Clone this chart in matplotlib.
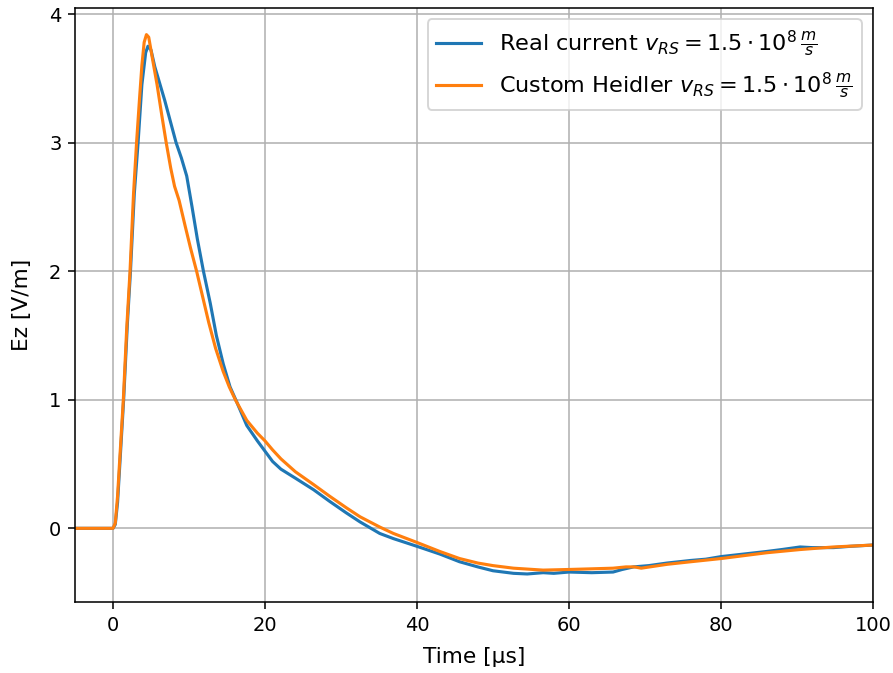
import matplotlib
matplotlib.use("Agg")
import matplotlib.pyplot as plt
import numpy as np

# Time axis in microseconds, field in V/m
t_real = [-5, 0, 0.3, 0.6, 0.9, 1.4, 1.9, 2.3, 2.8, 3.3, 3.8, 4.3, 4.6, 5.0,
          5.5, 6.8, 8.3, 9.0, 9.7, 10.4, 11.1, 11.9, 12.8, 13.6, 14.5, 15.4,
          16.3, 17.6, 19.0, 20.0, 21.0, 22.1, 24.0, 26.4, 28.5, 30.7, 32.5,
          35.1, 36.9, 40.0, 43.0, 45.6, 48.0, 50.0, 52.7, 54.5, 56.6, 58.0,
          60.0, 63.0, 65.8, 67.0, 68.5, 70.5, 72.9, 76.0, 78.0, 80.0, 83.0,
          86.0, 88.0, 90.4, 92.0, 94.8, 97.0, 100.0]
ez_real = [0, 0, 0.03, 0.2, 0.5, 1.0, 1.6, 2.0, 2.6, 3.0, 3.45, 3.7, 3.75, 3.72,
           3.59, 3.33, 3.0, 2.88, 2.74, 2.5, 2.25, 2.0, 1.75, 1.5, 1.28, 1.1,
           0.98, 0.8, 0.68, 0.6, 0.52, 0.46, 0.39, 0.3, 0.21, 0.12, 0.05,
           -0.04, -0.08, -0.14, -0.2, -0.26, -0.3, -0.33, -0.35, -0.355, -0.345,
           -0.35, -0.34, -0.345, -0.34, -0.32, -0.3, -0.29, -0.27, -0.25, -0.24,
           -0.22, -0.2, -0.18, -0.165, -0.145, -0.15, -0.15, -0.14, -0.13]

t_heidler = [-5, 0, 0.3, 0.6, 0.9, 1.36, 1.8, 2.24, 2.7, 3.1, 3.5, 3.8, 4.1, 4.4,
             4.7, 5.2, 5.8, 6.4, 7.0, 7.6, 8.1, 8.7, 9.5, 10.2, 11.0, 11.8, 12.6,
             13.5, 14.5, 15.3, 16.1, 17.6, 19.0, 20.0, 21.0, 22.1, 24.0, 26.4,
             28.5, 30.7, 32.5, 35.1, 36.9, 40.0, 43.0, 45.6, 48.0, 50.0, 52.7,
             56.6, 60.0, 63.0, 65.8, 67.5, 68.6, 69.5, 72.9, 76.0, 80.0, 86.0,
             90.4, 94.8, 100.0]
ez_heidler = [0, 0, 0.04, 0.25, 0.55, 1.0, 1.55, 2.0, 2.6, 3.0, 3.35, 3.6, 3.78,
              3.84, 3.82, 3.65, 3.45, 3.22, 3.0, 2.8, 2.66, 2.55, 2.35, 2.18,
              2.0, 1.8, 1.6, 1.4, 1.22, 1.1, 1.0, 0.84, 0.74, 0.68, 0.61, 0.54,
              0.44, 0.34, 0.25, 0.16, 0.09, 0.01, -0.04, -0.11, -0.18, -0.235,
              -0.27, -0.29, -0.31, -0.325, -0.32, -0.315, -0.31, -0.3, -0.3,
              -0.31, -0.28, -0.26, -0.235, -0.19, -0.165, -0.145, -0.13]

DPI = 140
fig = plt.figure(figsize=(893 / DPI, 673 / DPI), dpi=DPI)
ax = fig.add_axes([75 / 893, 1 - 602 / 673, 798 / 893, 594 / 673])

ax.plot(t_real, ez_real, lw=1.6,
        label=r"Real current $v_{RS} = 1.5 \cdot 10^8\,\frac{m}{s}$")
ax.plot(t_heidler, ez_heidler, lw=1.6,
        label=r"Custom Heidler $v_{RS} = 1.5 \cdot 10^8\,\frac{m}{s}$")

ax.set_xlim(-5, 100)
ax.set_ylim(-0.573, 4.047)
ax.set_xlabel("Time [µs]", fontsize=11.2, labelpad=6.5)
ax.set_ylabel("Ez [V/m]", fontsize=11.2, labelpad=9)
ax.grid(True)
ax.legend(loc="upper right", fontsize=11.5)

fig.savefig("out.png", dpi=DPI)
